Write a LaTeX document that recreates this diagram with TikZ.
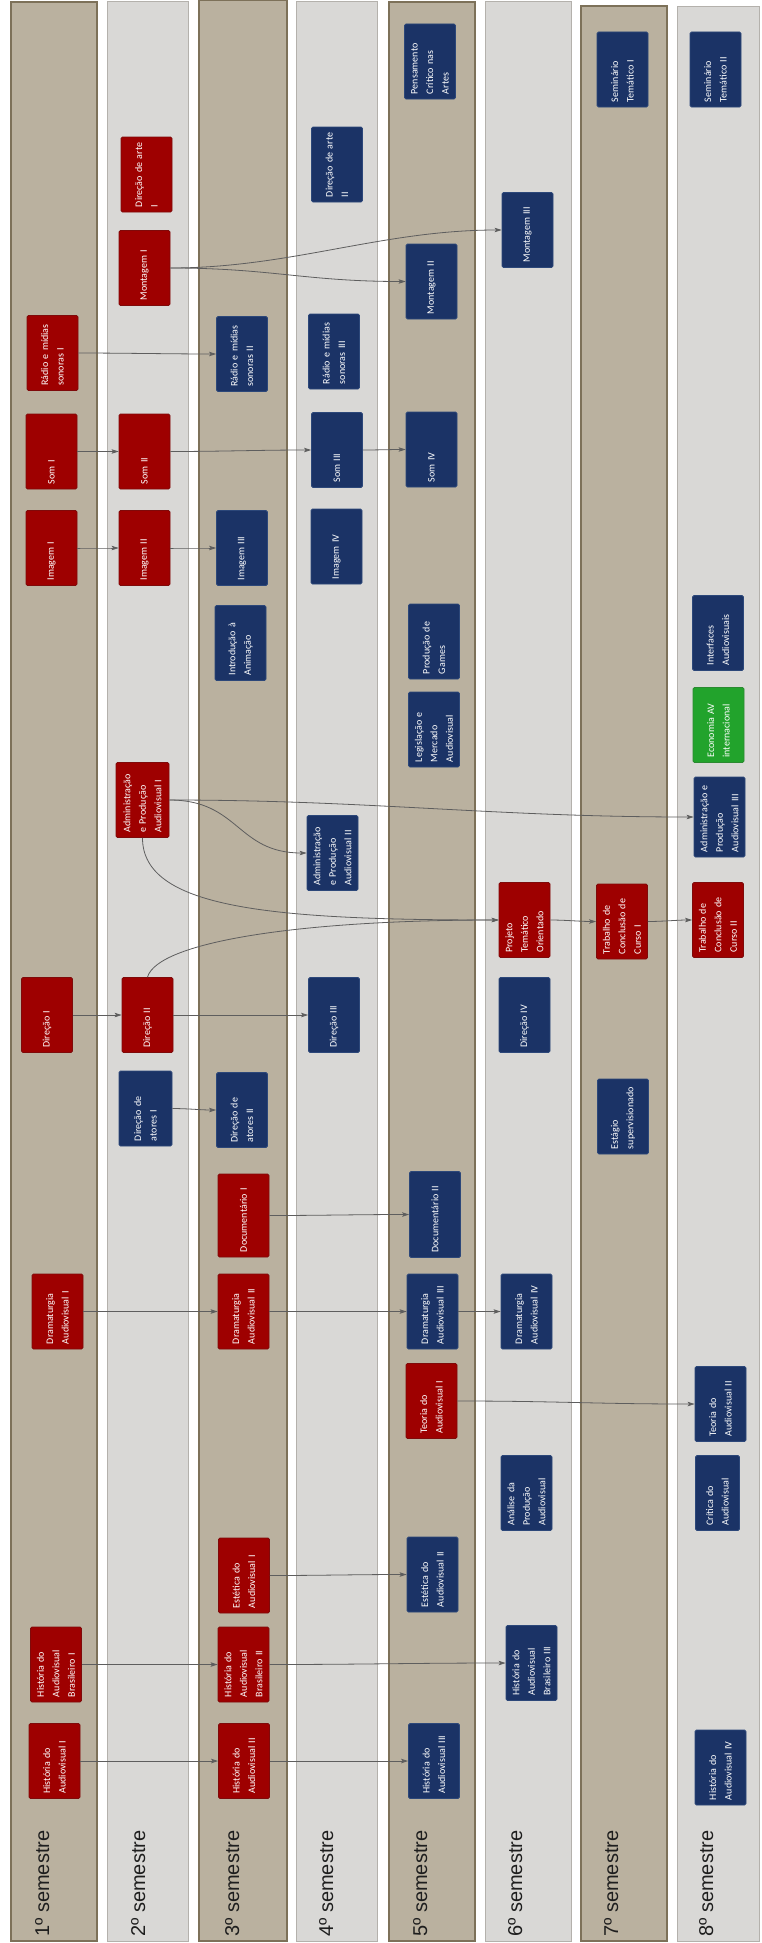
\documentclass[tikz,border=0pt]{standalone}
\usepackage{fontspec}
\usetikzlibrary{arrows.meta}
\newfontfamily\boxfont{Carlito}
\newfontfamily\semfont{Liberation Sans}
\definecolor{tanf}{HTML}{BAB19F}
\definecolor{tand}{HTML}{7D7159}
\definecolor{grf}{HTML}{D9D8D6}
\definecolor{grd}{HTML}{B4B1AC}
\definecolor{rdf}{HTML}{9E0000}
\definecolor{rdd}{HTML}{7F0A0A}
\definecolor{blf}{HTML}{1B3366}
\definecolor{bld}{HTML}{2C4779}
\definecolor{gnf}{HTML}{22A32C}
\definecolor{gnd}{HTML}{2B8A31}
\definecolor{lnc}{HTML}{5E5E5E}
\definecolor{semc}{HTML}{1E1E1E}
\tikzset{
 colT/.style={fill=tanf, draw=tand, line width=1.2pt},
 colG/.style={fill=grf, draw=grd, line width=1pt},
 box/.style={rotate=90, minimum width=75pt, minimum height=51pt, text width=65pt, inner xsep=5pt, inner ysep=2pt, align=left, text=white, font=\boxfont\fontsize{10}{15.5}\selectfont, rounded corners=1.5pt, line width=0.8pt},
 rbox/.style={box, fill=rdf, draw=rdd},
 bbox/.style={box, fill=blf, draw=bld},
 gbox/.style={box, fill=gnf, draw=gnd},
 sem/.style={rotate=90, anchor=base west, inner sep=0pt, text=semc, font=\semfont\fontsize{20}{24}\selectfont},
 conn/.style={draw=lnc, line width=0.8pt, -{Stealth[length=7pt,width=4.5pt,inset=1.5pt]}},
}
\newcommand\lnk[3][30]{\draw[conn] (#2.south) .. controls +(#1,0) and +(-#1,0) .. (#3.north);}
\begin{document}
\begin{tikzpicture}[x=1pt,y=-1pt]
\useasboundingbox (0,0) rectangle (761,1943);
% columns
\draw[colT] (11,2) rectangle (97,1941);
\draw[colG] (107,2) rectangle (188,1941);
\draw[colT] (199,0.6) rectangle (287,1941);
\draw[colG] (296,2) rectangle (377,1941);
\draw[colT] (389,2) rectangle (475,1941);
\draw[colG] (485,2) rectangle (571,1941);
\draw[colT] (581,6) rectangle (667,1941);
\draw[colG] (677,7) rectangle (759,1941);
% semester labels
\node[sem] (sl1) at (49,1937) {1º semestre};
\node[sem] (sl2) at (145,1937) {2º semestre};
\node[sem] (sl3) at (239,1937) {3º semestre};
\node[sem] (sl4) at (333,1937) {4º semestre};
\node[sem] (sl5) at (427,1937) {5º semestre};
\node[sem] (sl6) at (522,1937) {6º semestre};
\node[sem] (sl7) at (618,1937) {7º semestre};
\node[sem] (sl8) at (713,1937) {8º semestre};
% column 1
\node[rbox] (som1) at (51.5,451.5) {Som I};
\node[rbox] (radio1) at (52.5,353) {Rádio e mídias\\sonoras I};
\node[rbox] (img1) at (51.5,548) {Imagem I};
\node[rbox] (dir1) at (47,1015) {Direção I};
\node[rbox] (dram1) at (57.5,1311.5) {Dramaturgia\\Audiovisual I};
\node[rbox] (hbr1) at (56,1664.5) {História do\\Audiovisual\\Brasileiro I};
\node[rbox] (hav1) at (54.5,1761) {História do\\Audiovisual I};
% column 2
\node[rbox] (arte1) at (146.5,174.5) {Direção de arte\\I};
\node[rbox] (mont1) at (144.5,268) {Montagem I};
\node[rbox] (som2) at (144.5,451.5) {Som II};
\node[rbox] (img2) at (144.5,548) {Imagem II};
\node[rbox, minimum height=53pt] (adm1) at (142.5,800) {Administração\\e Produção\\Audiovisual I};
\node[rbox] (dir2) at (147.5,1015) {Direção II};
\node[bbox, minimum height=53pt] (ator1) at (145.5,1108.5) {Direção de\\atores I};
% column 3
\node[bbox] (radio2) at (242,354) {Rádio e mídias\\sonoras II};
\node[bbox] (img3) at (242,548) {Imagem III};
\node[bbox] (anim) at (240.5,643) {Introdução à\\Animação};
\node[bbox] (ator2) at (242,1110) {Direção de\\atores II};
\node[rbox, minimum width=83pt, text width=73pt] (doc1) at (243.5,1215.5) {Documentário I};
\node[rbox] (dram2) at (243.5,1311.5) {Dramaturgia\\Audiovisual II};
\node[rbox] (est1) at (244,1575.5) {Estética do\\Audiovisual I};
\node[rbox] (hbr2) at (243.5,1664.5) {História do\\Audiovisual\\Brasileiro II};
\node[rbox] (hav2) at (244,1761) {História do\\Audiovisual II};
% column 4
\node[bbox] (arte2) at (337,164.5) {Direção de arte\\II};
\node[bbox] (radio3) at (334,351.5) {Rádio e mídias\\sonoras III};
\node[bbox] (som3) at (337,450) {Som III};
\node[bbox] (img4) at (336.5,546.5) {Imagem IV};
\node[bbox] (adm2) at (332.5,853) {Administração\\e Produção\\Audiovisual II};
\node[bbox] (dir3) at (334,1015) {Direção III};
% column 5
\node[bbox] (pens) at (430,61.5) {Pensamento\\Crítico nas\\Artes};
\node[bbox] (mont2) at (431.5,281.5) {Montagem II};
\node[bbox] (som4) at (431.5,449.5) {Som IV};
\node[bbox] (games) at (434,641.5) {Produção de\\Games};
\node[bbox] (legis) at (434,729.5) {Legislação e\\Mercado\\Audiovisual};
\node[bbox, minimum width=86pt, text width=76pt] (doc2) at (435,1214.5) {Documentário II};
\node[bbox] (dram3) at (432.5,1311.5) {Dramaturgia\\Audiovisual III};
\node[rbox] (teo1) at (431.5,1401) {Teoria do\\Audiovisual I};
\node[bbox] (est2) at (432.5,1574.5) {Estética do\\Audiovisual II};
\node[bbox] (hav3) at (434,1761) {História do\\Audiovisual III};
% column 6
\node[bbox] (mont3) at (527.5,230) {Montagem III};
\node[rbox] (pto) at (524.5,920) {Projeto\\Temático\\Orientado};
\node[bbox] (dir4) at (524.5,1015) {Direção IV};
\node[bbox] (dram4) at (526.5,1311.5) {Dramaturgia\\Audiovisual IV};
\node[bbox] (anal) at (526.5,1493) {Análise da\\Produção\\Audiovisual};
\node[bbox] (hbr3) at (531.5,1663) {História do\\Audiovisual\\Brasileiro III};
% column 7
\node[bbox] (sem1) at (622.5,69.5) {Seminário\\Temático I};
\node[rbox] (tcc1) at (622,921.5) {Trabalho de\\Conclusão de\\Curso I};
\node[bbox] (estag) at (623,1116.5) {Estágio\\supervisionado};
% column 8
\node[bbox] (sem2) at (715.5,69.5) {Seminário\\Temático II};
\node[bbox] (inter) at (718,633) {Interfaces\\Audiovisuais};
\node[gbox] (econ) at (718.5,725) {Economia AV\\internacional};
\node[bbox, minimum width=80pt, text width=70pt] (adm3) at (719.5,817) {Administração e\\Produção\\Audiovisual III};
\node[rbox] (tcc2) at (718,920) {Trabalho de\\Conclusão de\\Curso II};
\node[bbox] (teo2) at (720.5,1404) {Teoria do\\Audiovisual II};
\node[bbox, minimum height=44pt] (crit) at (717.5,1493) {Crítica do\\Audiovisual};
\node[bbox] (hav4) at (720.5,1767.5) {História do\\Audiovisual IV};
% connectors
\lnk[15]{som1}{som2}
\lnk[50]{som2}{som3}
\lnk[15]{som3}{som4}
\lnk[40]{radio1}{radio2}
\lnk[100]{mont1}{mont2}
\lnk[120]{mont1}{mont3}
\lnk[15]{img1}{img2}
\lnk[15]{img2}{img3}
\lnk[70]{adm1}{adm2}
\lnk[200]{adm1}{adm3}
\draw[conn] (adm1.west) .. controls +(0,70) and +(-230,0) .. (pto.north);
\draw[conn] (dir2.east) .. controls +(10,-35) and +(-200,0) .. (pto.north);
\lnk[15]{pto}{tcc1}
\lnk[15]{tcc1}{tcc2}
\lnk[15]{dir1}{dir2}
\lnk[50]{dir2}{dir3}
\lnk[15]{ator1}{ator2}
\lnk[50]{doc1}{doc2}
\lnk[60]{dram1}{dram2}
\lnk[50]{dram2}{dram3}
\lnk[15]{dram3}{dram4}
\lnk[100]{teo1}{teo2}
\lnk[50]{est1}{est2}
\lnk[60]{hbr1}{hbr2}
\lnk[90]{hbr2}{hbr3}
\lnk[60]{hav1}{hav2}
\lnk[50]{hav2}{hav3}
\end{tikzpicture}
\end{document}
